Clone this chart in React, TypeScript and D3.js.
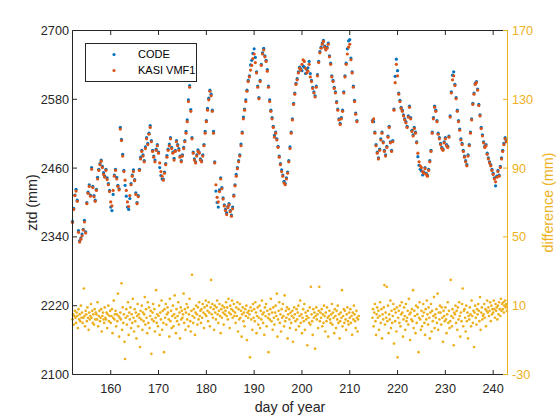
import React from "react";
import * as d3 from "d3";

// sampling: ZTD every 6 h, difference every 3 h, starting day 152
const ztdStartDay = 152;
const ztdStep = 0.25;
const diffStartDay = 152;
const diffStep = 0.125;

const xTicks = [160, 170, 180, 190, 200, 210, 220, 230, 240];
const yLeftTicks = [2100, 2220, 2340, 2460, 2580, 2700];
const yRightTicks = [-30, 10, 50, 90, 130, 170];
const seriesNames = ["CODE", "KASI VMF1"];

const N = null;

// KASI VMF1 ZTD (mm), 4 per day
const kasiZtd: (number | null)[] = [
  2365,2388,2412,2420, 2402,2348,2331,2336, 2342,2352,2366,2347, 2398,2416,2428,2411,
  2458,2426,2410,2402, 2421,2441,2456,2466, 2472,2461,2449,2444, 2456,2440,2431,2419,
  2401,2394,2421,2446, 2456,2441,2428,2422, 2528,2508,2481,2454, 2439,2421,2401,2393,
  2412,2431,2446,2454, 2438,2414,2398,2410, 2456,2476,2489,2481, 2471,2494,2511,2501,
  2519,2531,2506,2489, 2479,2471,2491,2499, 2486,2469,2454,2446, 2439,2451,2466,2479,
  2491,2499,2511,2494, 2486,2474,2489,2506, 2499,2491,2479,2471, 2481,2494,2506,2521,
  2541,2576,2601,2559, 2511,2486,2474,2469, 2481,2489,2486,2474, 2471,2481,2499,2521,
  2541,2561,2579,2594, 2586,2559,2521,2469, 2431,2409,2401,2419, 2441,2424,2406,2394,
  2386,2379,2391,2396, 2384,2376,2389,2411, 2429,2446,2459,2471, 2481,2499,2521,2546,
  2561,2576,2594,2611, 2619,2631,2639,2651, 2659,2644,2626,2601, 2581,2611,2639,2659,
  2666,2654,2646,2629, 2601,2576,2559,2546, 2531,2514,2521,2509, 2496,2479,2466,2454,
  2446,2434,2431,2441, 2451,2471,2494,2521, 2544,2571,2589,2606, 2614,2626,2634,2631,
  2641,2649,2646,2634, 2626,2629,2641,2619, 2611,2599,2591,2584, 2601,2621,2644,2661,
  2669,2676,2681,2671, 2666,2669,2676,2654, 2641,2619,2611,2599, 2591,2574,2561,2544,
  2536,2546,2559,2591, 2619,2641,2659,2671, 2676,2649,2626,2601, 2576,2554,2541,N,
  N,N,N,N, N,N,N,N, N,N,N,2541,
  2546,2521,2499,2486, 2476,2491,2509,2521, 2504,2489,2481,2496, 2514,2531,2504,2489,
  2506,2561,2609,2641, 2621,2589,2576,2564, 2559,2551,2544,2539, 2531,2549,2566,2546,
  2524,2516,2529,2521, 2504,2486,2471,2464, 2461,2454,2451,2459, 2449,2446,2456,2471,
  2489,2521,2546,2566, 2559,2541,2519,2511, 2501,2494,2491,2504, 2511,2499,2496,2514,
  2549,2591,2614,2621, 2604,2581,2559,2541, 2526,2509,2501,2489, 2479,2471,2464,2481,
  2499,2521,2544,2571, 2589,2606,2609,2596, 2569,2551,2529,2516, 2504,2496,2499,2484,
  2476,2469,2464,2456, 2449,2441,2436,2444, 2454,2446,2461,2476, 2489,2501,2511,2506,
];

// CODE ZTD (mm), 4 per day
const codeZtd: (number | null)[] = [
  2367,2390,2413,2423, 2404,2351,2333,2338, 2345,2353,2369,2349, 2400,2418,2431,2413,
  2461,2428,2412,2404, 2423,2444,2458,2468, 2474,2463,2452,2446, 2458,2443,2433,2421,
  2392,2386,2414,2448, 2458,2444,2430,2424, 2531,2510,2484,2456, 2430,2411,2392,2388,
  2407,2433,2448,2457, 2440,2417,2400,2412, 2458,2479,2491,2483, 2473,2497,2513,2503,
  2521,2534,2508,2491, 2481,2474,2493,2501, 2488,2461,2447,2441, 2441,2453,2468,2482,
  2493,2502,2513,2496, 2488,2477,2491,2508, 2501,2494,2481,2473, 2483,2496,2508,2524,
  2544,2579,2604,2562, 2513,2488,2476,2471, 2483,2492,2488,2476, 2473,2483,2501,2524,
  2543,2564,2582,2596, 2589,2561,2524,2471, 2420,2400,2392,2422, 2443,2426,2408,2396,
  2388,2382,2393,2398, 2386,2378,2392,2413, 2431,2449,2461,2473, 2483,2502,2523,2549,
  2563,2579,2596,2613, 2621,2640,2648,2660, 2668,2653,2628,2603, 2583,2613,2641,2661,
  2669,2656,2648,2632, 2603,2579,2561,2548, 2533,2517,2523,2511, 2498,2481,2468,2457,
  2448,2437,2433,2443, 2453,2473,2497,2523, 2546,2573,2591,2608, 2616,2628,2636,2633,
  2630,2638,2636,2625, 2632,2635,2646,2625, 2613,2601,2593,2586, 2603,2623,2646,2663,
  2671,2678,2683,2673, 2668,2671,2678,2656, 2643,2621,2613,2601, 2593,2576,2563,2546,
  2538,2548,2561,2593, 2621,2643,2668,2682, 2684,2652,2628,2603, 2578,2556,2543,N,
  N,N,N,N, N,N,N,N, N,N,N,2543,
  2541,2523,2501,2488, 2478,2493,2511,2523, 2506,2491,2483,2498, 2516,2533,2506,2491,
  2508,2563,2620,2650, 2630,2591,2578,2566, 2561,2553,2546,2541, 2533,2551,2568,2548,
  2526,2518,2531,2523, 2506,2480,2465,2458, 2455,2448,2453,2461, 2451,2448,2458,2473,
  2491,2523,2548,2568, 2561,2543,2521,2513, 2503,2496,2493,2506, 2513,2501,2498,2516,
  2551,2593,2622,2628, 2606,2583,2561,2543, 2528,2511,2503,2491, 2481,2473,2466,2483,
  2501,2523,2546,2573, 2591,2608,2611,2598, 2571,2553,2531,2518, 2506,2498,2501,2486,
  2478,2471,2466,2458, 2451,2443,2429,2446, 2456,2448,2463,2478, 2491,2503,2513,2508,
];

// difference (mm), 8 per day
const diffMm: (number | null)[] = [
  2,5,-1,4,7,3,0,6, 4,-3,8,2,5,1,10,3, 6,0,3,20,4,-2,7,5, 1,9,3,-4,6,2,4,11,
  3,7,0,5,-1,8,2,6, 5,2,12,-2,4,7,1,3, 8,-5,4,6,2,0,9,3, 2,6,-3,5,10,1,4,7,
  0,4,8,-6,3,13,2,5, 7,-2,5,1,17,4,-8,3, 6,2,23,-4,9,0,5,-11, -21,3,8,-1,4,12,-7,6,
  2,9,-3,5,0,14,3,-5, 8,1,6,-9,4,11,-2,5, 3,-14,7,2,10,-4,6,1, 5,15,-1,8,3,-6,12,0,
  9,-3,4,7,-18,2,6,11, 1,8,-5,3,19,0,5,-2, 4,10,-7,6,2,13,-4,7, 0,-17,8,3,11,-1,5,9,
  6,2,-8,14,1,7,-3,4, 10,-2,5,16,3,-6,8,1, 4,12,-1,6,-9,9,2,7, 3,5,17,0,8,-4,6,11,
  2,9,-2,5,14,1,-5,7, 28,4,0,8,3,-7,6,10, 5,-1,9,2,12,4,7,0, 8,3,11,6,-3,9,5,13,
  4,10,7,1,12,6,-2,9, 25,5,11,3,8,-4,10,6, 2,9,13,5,0,7,11,4, -6,8,3,10,6,-1,9,5,
  7,12,4,9,2,14,6,-3, 10,5,8,13,3,7,11,4, 6,0,9,4,12,-5,8,2, 11,3,7,-8,5,9,1,6,
  -2,8,4,10,-10,6,3,7, 5,-20,9,2,7,-4,11,3, 8,1,12,6,-6,4,9,-1, 3,10,-3,7,2,13,5,0,
  6,-7,9,4,11,-2,7,3, -17,5,2,8,14,1,6,-4, 9,3,-1,6,10,4,17,-8, 2,7,12,0,5,-5,8,3,
  11,4,-2,16,1,7,3,9, -9,5,8,2,-3,6,0,4, 7,-11,3,9,5,1,-4,8, 2,6,10,-2,4,13,0,5,
  -6,3,8,1,11,-4,6,2, 4,-13,7,3,0,9,-1,21, 5,1,-7,8,3,6,-15,4, 9,2,5,-3,7,21,1,6,
  3,8,-2,5,0,10,4,-5, 6,1,9,3,-8,4,7,2, 0,5,11,-1,6,3,-6,8, 4,-3,7,2,10,0,5,-9,
  1,6,3,19,-2,4,8,0, 7,2,-4,5,9,1,-1,6, 3,8,0,4,-7,6,2,10, 5,1,-3,7,3,-5,2,4,
  N,N,N,N,N,N,N,N, N,N,N,N,N,N,N,N, N,N,N,N,N,N,3,8,
  -2,6,11,1,-7,5,9,3, 7,-4,4,12,0,8,-9,5, 2,9,22,-1,6,3,21,1, 10,-6,5,2,13,-3,7,0,
  4,11,-12,8,1,6,-5,9, -20,3,7,0,10,-2,5,12, 6,-8,2,9,4,-4,11,1, 3,7,-1,14,5,-10,6,2,
  8,1,19,-3,7,4,-6,10, 0,5,9,-17,3,12,2,-4, 7,-2,4,11,6,0,-7,8, 2,13,5,-1,9,3,-9,6,
  11,-5,7,1,4,15,-3,5, 3,8,0,17,-4,6,2,10, 6,-1,9,3,-11,7,4,1, 9,2,-6,5,12,0,7,-3,
  1,25,4,-2,8,3,-13,6, 5,10,0,7,-4,9,2,12, 4,-8,6,1,11,20,-2,7, 8,3,-5,10,1,6,-9,4,
  2,9,5,-2,13,4,0,7, -14,6,10,3,-1,8,5,11, 7,1,15,-4,6,9,2,4, 5,11,3,8,-2,7,13,6,
  9,4,7,12,1,10,5,8, 6,13,8,3,11,7,9,2, 10,5,12,8,4,14,7,11, 8,12,6,10,13,9,11,7,
];

const BLUE = "#0072BD";
const ORANGE = "#D95319";
const YELLOW = "#EDB120";
const FONT = "'Liberation Sans', Arial, sans-serif";

export default function App() {
  const W = 560, H = 420;
  const L = 72.5, R = 507.5, T = 30.5, B = 374.5;
  const x = d3.scaleLinear().domain([152, 243]).range([L, R]);
  const yL = d3.scaleLinear().domain([2100, 2700]).range([B, T]);
  const yR = d3.scaleLinear().domain([-30, 170]).range([B, T]);
  const tk = 4.5;

  const pts = (arr: (number | null)[], start: number, step: number) =>
    arr.map((v, i) => ({ t: start + i * step, v })).filter((p) => p.v !== null) as { t: number; v: number }[];

  const code = pts(codeZtd, ztdStartDay, ztdStep);
  const kasi = pts(kasiZtd, ztdStartDay, ztdStep);
  const diff = pts(diffMm, diffStartDay, diffStep);

  return (
    <svg width={W} height={H} style={{ position: "absolute", left: 0, top: 0, background: "#fff" }} fontFamily={FONT}>
      <rect x={0} y={0} width={W} height={H} fill="#fff" />
      <g>
        {code.map((p, i) => (
          <circle key={"c" + i} cx={x(p.t)} cy={yL(p.v)} r={1.6} fill={BLUE} />
        ))}
        {kasi.map((p, i) => (
          <circle key={"k" + i} cx={x(p.t)} cy={yL(p.v)} r={1.6} fill={ORANGE} />
        ))}
        {diff.map((p, i) => (
          <circle key={"d" + i} cx={x(p.t)} cy={yR(p.v)} r={1.35} fill={YELLOW} />
        ))}
      </g>
      <line x1={L} x2={R} y1={T} y2={T} stroke="#262626" strokeWidth={1} />
      <line x1={L} x2={R} y1={B} y2={B} stroke="#262626" strokeWidth={1} />
      <line x1={L} x2={L} y1={T} y2={B} stroke="#262626" strokeWidth={1} />
      <line x1={R} x2={R} y1={T} y2={B} stroke={YELLOW} strokeWidth={1} />
      {xTicks.map((t) => (
        <g key={"x" + t}>
          <line x1={x(t)} x2={x(t)} y1={B} y2={B - tk} stroke="#262626" />
          <line x1={x(t)} x2={x(t)} y1={T} y2={T + tk} stroke="#262626" />
          <text x={x(t)} y={393} textAnchor="middle" fontSize={12.7} fill="#262626">{t}</text>
        </g>
      ))}
      {yLeftTicks.map((t) => (
        <g key={"yl" + t}>
          <line x1={L} x2={L + tk} y1={yL(t)} y2={yL(t)} stroke="#262626" />
          <text x={69} y={yL(t)} dy="0.36em" textAnchor="end" fontSize={12.7} fill="#262626">{t}</text>
        </g>
      ))}
      {yRightTicks.map((t) => (
        <g key={"yr" + t}>
          <line x1={R} x2={R - tk} y1={yR(t)} y2={yR(t)} stroke={YELLOW} />
          <text x={512} y={yR(t)} dy="0.36em" textAnchor="start" fontSize={12.7} fill={YELLOW}>{t}</text>
        </g>
      ))}
      <text x={(L + R) / 2} y={412} textAnchor="middle" fontSize={14.3} fill="#262626">day of year</text>
      <text transform={`translate(37,${(T + B) / 2}) rotate(-90)`} textAnchor="middle" fontSize={14.3} fill="#262626">ztd (mm)</text>
      <text transform={`translate(553,${(T + B) / 2}) rotate(-90)`} textAnchor="middle" fontSize={14.3} fill={YELLOW}>difference (mm)</text>
      <rect x={85.5} y={43.5} width={111} height={38} fill="#fff" stroke="#262626" strokeWidth={1} />
      <circle cx={114} cy={54.5} r={1.6} fill={BLUE} />
      <text x={138} y={54.5} dy="0.36em" fontSize={11} fill="#000">{seriesNames[0]}</text>
      <circle cx={114} cy={70.5} r={1.6} fill={ORANGE} />
      <text x={138} y={70.5} dy="0.36em" fontSize={11} fill="#000">{seriesNames[1]}</text>
    </svg>
  );
}
